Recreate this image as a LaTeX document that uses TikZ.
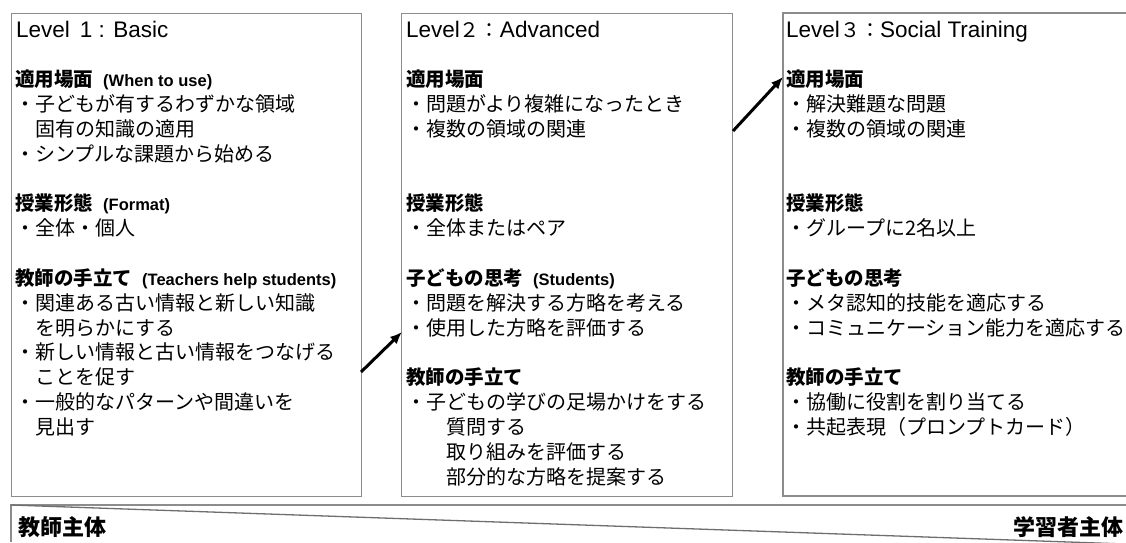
\documentclass[tikz,border=0pt]{standalone}
\usepackage{fontspec}
\setmainfont{Noto Sans CJK JP}
\newfontfamily\lat{Liberation Sans}
\usetikzlibrary{arrows.meta}
\definecolor{bordergray}{RGB}{140,140,140}
\definecolor{linegray}{RGB}{110,110,110}
\newcommand\hd[1]{{\bfseries\fontsize{19.5}{24}\selectfont #1}}
\newcommand\pr[1]{\hspace{10pt}{\lat\bfseries\fontsize{16.5}{18}\selectfont #1}}
\newcommand\tl[1]{{\lat\fontsize{22.5}{26}\selectfont #1}}
\begin{document}
\begin{tikzpicture}[x=1pt,y=-1pt,
  boxline/.style={draw=bordergray, line width=1.3pt},
  panel/.style={boxline, rectangle, inner sep=0pt, anchor=north west},
  txt/.style={anchor=base west, inner sep=0pt, font=\fontsize{20}{24}\selectfont, text=black},
  ttl/.style={anchor=base west, inner sep=0pt},
  foot/.style={inner sep=0pt, font=\bfseries\fontsize{22}{26}\selectfont},
  conn/.style={line width=3pt, -{Latex[length=12pt,width=10pt]}}
]
\useasboundingbox (0,0) rectangle (1126,542);
% panels
\node[panel, minimum width=350pt, minimum height=483pt] (box1) at (11,13) {};
\node[panel, minimum width=331pt, minimum height=483pt] (box2) at (401,13) {};
\draw[boxline] (1126,13) -- (783,13) -- (783,496) -- (1126,496);
% titles
\node[ttl] (t1) at (16,37) {\tl{Level\hspace{10pt}1 : Basic}};
\node[ttl] (t2) at (406,37) {\tl{Level}\fontsize{20}{24}\selectfont ２：\tl{Advanced}};
\node[ttl] (t3) at (786,37) {\tl{Level}\fontsize{20}{24}\selectfont ３：\tl{Social Training}};
% box 1
\node[txt] (a0) at (15,{86.5+24.85*0}) {\hd{適用場面}\pr{(When to use)}};
\node[txt] (a1) at (15,{86.5+24.85*1}) {・子どもが有するわずかな領域};
\node[txt] (a2) at (15,{86.5+24.85*2}) {　固有の知識の適用};
\node[txt] (a3) at (15,{86.5+24.85*3}) {・シンプルな課題から始める};
\node[txt] (a5) at (15,{86.5+24.85*5}) {\hd{授業形態}\pr{(Format)}};
\node[txt] (a6) at (15,{86.5+24.85*6}) {・全体・個人};
\node[txt] (a8) at (15,{86.5+24.85*8}) {\hd{教師の手立て}\pr{(Teachers help students)}};
\node[txt] (a9) at (15,{86.5+24.85*9}) {・関連ある古い情報と新しい知識};
\node[txt] (a10) at (15,{86.5+24.85*10}) {　を明らかにする};
\node[txt] (a11) at (15,{86.5+24.85*11}) {・新しい情報と古い情報をつなげる};
\node[txt] (a12) at (15,{86.5+24.85*12}) {　ことを促す};
\node[txt] (a13) at (15,{86.5+24.85*13}) {・一般的なパターンや間違いを};
\node[txt] (a14) at (15,{86.5+24.85*14}) {　見出す};
% box 2
\node[txt] (b0) at (406,{86.5+24.85*0}) {\hd{適用場面}};
\node[txt] (b1) at (406,{86.5+24.85*1}) {・問題がより複雑になったとき};
\node[txt] (b2) at (406,{86.5+24.85*2}) {・複数の領域の関連};
\node[txt] (b5) at (406,{86.5+24.85*5}) {\hd{授業形態}};
\node[txt] (b6) at (406,{86.5+24.85*6}) {・全体またはペア};
\node[txt] (b8) at (406,{86.5+24.85*8}) {\hd{子どもの思考}\pr{(Students)}};
\node[txt] (b9) at (406,{86.5+24.85*9}) {・問題を解決する方略を考える};
\node[txt] (b10) at (406,{86.5+24.85*10}) {・使用した方略を評価する};
\node[txt] (b12) at (406,{86.5+24.85*12}) {\hd{教師の手立て}};
\node[txt] (b13) at (406,{86.5+24.85*13}) {・子どもの学びの足場かけをする};
\node[txt] (b14) at (406,{86.5+24.85*14}) {　　質問する};
\node[txt] (b15) at (406,{86.5+24.85*15}) {　　取り組みを評価する};
\node[txt] (b16) at (406,{86.5+24.85*16}) {　　部分的な方略を提案する};
% box 3
\node[txt] (c0) at (786,{86.5+24.85*0}) {\hd{適用場面}};
\node[txt] (c1) at (786,{86.5+24.85*1}) {・解決難題な問題};
\node[txt] (c2) at (786,{86.5+24.85*2}) {・複数の領域の関連};
\node[txt] (c5) at (786,{86.5+24.85*5}) {\hd{授業形態}};
\node[txt] (c6) at (786,{86.5+24.85*6}) {・グループに2名以上};
\node[txt] (c8) at (786,{86.5+24.85*8}) {\hd{子どもの思考}};
\node[txt] (c9) at (786,{86.5+24.85*9}) {・メタ認知的技能を適応する};
\node[txt] (c10) at (786,{86.5+24.85*10}) {・コミュニケーション能力を適応する};
\node[txt] (c12) at (786,{86.5+24.85*12}) {\hd{教師の手立て}};
\node[txt] (c13) at (786,{86.5+24.85*13}) {・協働に役割を割り当てる};
\node[txt] (c14) at (786,{86.5+24.85*14}) {・共起表現（プロンプトカード）};
% arrows
\coordinate (p1s) at (361,372);
\coordinate (p1e) at (402,332);
\coordinate (p2s) at (733,131);
\coordinate (p2e) at (783,77);
\draw[conn] (p1s) -- (p1e);
\draw[conn] (p2s) -- (p2e);
% bottom strip
\coordinate (s0) at (11,505);
\coordinate (s1) at (1126,505);
\coordinate (s2) at (11,542);
\coordinate (s3) at (1126,544);
\draw[boxline] (s2) -- (s0) -- (s1);
\draw[draw=linegray, line width=1.3pt] (s0) -- (s3);
\node[foot, anchor=base west] (lt) at (18,535.5) {教師主体};
\node[foot, anchor=base east] (rt) at (1124,535.5) {学習者主体};
\end{tikzpicture}
\end{document}
